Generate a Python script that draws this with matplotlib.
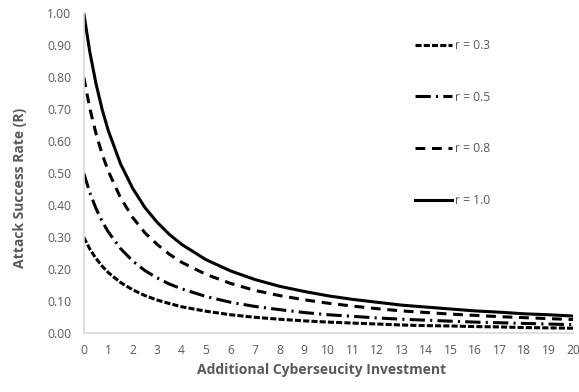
import matplotlib
matplotlib.use("Agg")
import matplotlib.pyplot as plt

# Investment levels (x) and read-off attack success rates per r
invest = [0, 0.25, 0.5, 0.75, 1, 1.5, 2, 2.5, 3, 3.5, 4, 5, 6, 7, 8, 9, 10,
          11, 12, 13, 14, 15, 16, 17, 18, 19, 20]

r10 = [1.000, 0.878, 0.780, 0.700, 0.634, 0.530, 0.453, 0.393, 0.347, 0.309,
       0.278, 0.230, 0.195, 0.168, 0.147, 0.131, 0.117, 0.106, 0.097, 0.088,
       0.082, 0.076, 0.070, 0.066, 0.061, 0.058, 0.054]
r08 = [0.800, 0.702, 0.624, 0.560, 0.507, 0.424, 0.362, 0.314, 0.278, 0.247,
       0.222, 0.184, 0.156, 0.134, 0.118, 0.105, 0.094, 0.085, 0.077, 0.070,
       0.065, 0.060, 0.056, 0.052, 0.049, 0.046, 0.043]
r05 = [0.500, 0.439, 0.390, 0.350, 0.317, 0.265, 0.226, 0.196, 0.173, 0.154,
       0.139, 0.115, 0.097, 0.084, 0.074, 0.065, 0.058, 0.053, 0.048, 0.044,
       0.041, 0.038, 0.035, 0.033, 0.031, 0.029, 0.027]
r03 = [0.300, 0.263, 0.234, 0.210, 0.190, 0.159, 0.136, 0.118, 0.104, 0.093,
       0.083, 0.069, 0.058, 0.050, 0.044, 0.039, 0.035, 0.032, 0.029, 0.026,
       0.024, 0.023, 0.021, 0.020, 0.018, 0.017, 0.016]

labels = ["r = 0.3", "r = 0.5", "r = 0.8", "r = 1.0"]
yticks = [0, 0.1, 0.2, 0.3, 0.4, 0.5, 0.6, 0.7, 0.8, 0.9, 1.0]
xticks = list(range(0, 21))

plt.rcParams['font.family'] = ['Open Sans', 'DejaVu Sans']
gray = '#595959'

fig = plt.figure(figsize=(5.79, 3.92), dpi=100)
ax = fig.add_axes([0.1447, 0.1497, 0.8449, 0.8163])

lw = 2.2
ax.plot(invest, r03, color='black', lw=lw, dashes=(2.0, 0.7), label=labels[0])
ax.plot(invest, r05, color='black', lw=lw, dashes=(5.0, 1.7, 0.7, 1.7), label=labels[1])
ax.plot(invest, r08, color='black', lw=lw, dashes=(3.2, 2.2), label=labels[2])
ax.plot(invest, r10, color='black', lw=lw, label=labels[3])

ax.set_xlim(0, 20)
ax.set_ylim(0, 1.0)
ax.set_xticks(xticks)
ax.set_yticks(yticks)
ax.set_yticklabels([f"{v:.2f}" for v in yticks])
ax.tick_params(length=0, labelsize=8.7, colors=gray)
ax.tick_params(axis='y', pad=9)
ax.tick_params(axis='x', pad=8)

for s in ['top', 'right']:
    ax.spines[s].set_visible(False)
for s in ['left', 'bottom']:
    ax.spines[s].set_color('#d9d9d9')
    ax.spines[s].set_linewidth(1.2)

xl = ax.set_xlabel('Additional Cyberseucity Investment', fontsize=10,
                   fontweight='bold', color=gray)
xl.set_va('center')
ax.xaxis.set_label_coords(0.487, -0.115)
yl = ax.set_ylabel('Attack Success Rate (R)', fontsize=10,
                   fontweight='bold', color=gray)
yl.set_va('center')
ax.yaxis.set_label_coords(-0.130, 0.454)

leg = ax.legend(loc='upper left', bbox_to_anchor=(415 / 579, 1 - 39 / 392),
                bbox_transform=fig.transFigure, frameon=False, fontsize=8.7,
                labelspacing=3.2, handlelength=3.1, handletextpad=0.2,
                borderpad=0, borderaxespad=0)
for t in leg.get_texts():
    t.set_color(gray)

fig.savefig('out.png', dpi=100)
